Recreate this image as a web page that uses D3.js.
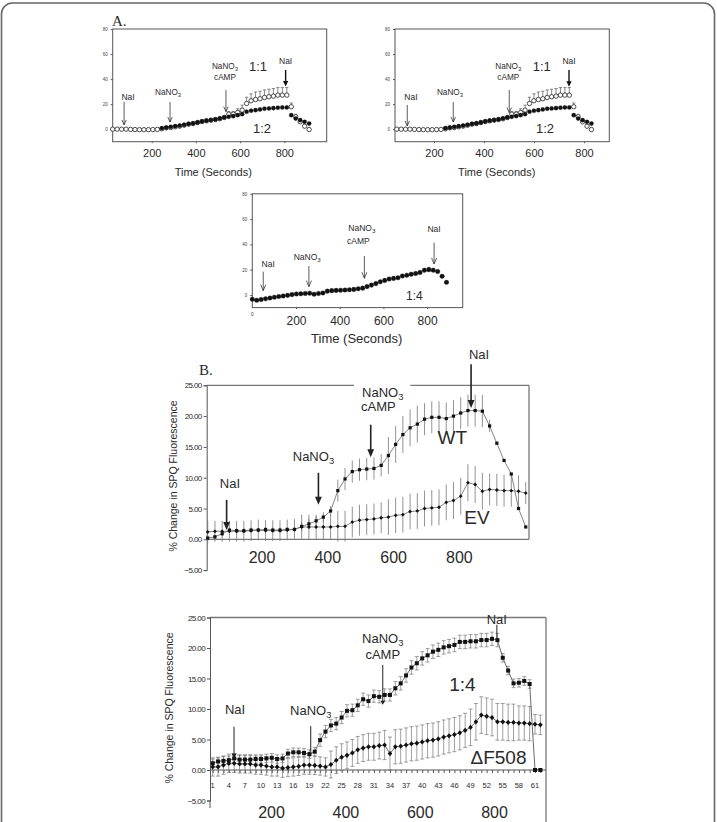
<!DOCTYPE html>
<html><head><meta charset="utf-8">
<script src="https://cdn.jsdelivr.net/npm/d3@7"></script>
<style>body{margin:0;background:#fff}svg{display:block}</style>
</head><body>
<svg id="c" width="717" height="822"></svg>
<script>
// ---------------- DATA ----------------
const aYTicks = [0, 20, 40, 60, 80];
const aXTicks = [200, 400, 600, 800];
const bYTicks = [-5, 0, 5, 10, 15, 20, 25];
const bXTicks = [200, 400, 600, 800];
const b2IndexLabels = [1,4,7,10,13,16,19,22,25,28,31,34,37,40,43,46,49,52,55,58,61];

// Panel A (1:1 open circles, 1:2 filled circles) - same in both top panels
const a11 = [0,0,0,0,-0.2,-0.3,-0.4,-0.4,-0.4,-0.3,-0.2,0.3,1.1,1.3,1.9,2.4,3.2,4.0,4.5,5.3,6.1,6.7,7.2,7.7,8.3,9.3,12,12,13.3,15.2,20.5,22.7,23.7,24.3,25.3,25.9,26.4,27.2,27.2,27.2,17.9,9.9,5.9,2.4,-0.3];
const a11Err = [0,0,0,0,0,0,0,0,0,0,0,0,0,0,0,0,0,0,0,0,0,0,0,0,0,0,2,2,3,4,5,5.5,6,6,6,6,6,6,6,6,3,2,2,1,1];
const a12 = [null,null,null,null,null,null,null,null,null,null,null,0.8,1.3,1.9,2.4,2.9,3.5,4.2,4.7,5.4,6.2,6.8,7.3,7.8,8.6,9.5,9.9,10.4,11.2,12.0,13.9,14.7,15.2,15.7,16.3,16.5,16.8,17.1,17.3,17.3,11.2,8.5,7.2,5.9,4.5];
const a12Err = [0,0,0,0,0,0,0,0,0,0,0,0,0,0,0,0,0,0,0,0,0,0,0,0,0,0,1,1,1,1,1.2,1.2,1.2,1.2,1.2,1.2,1.2,1.2,1.2,1.2,1,1,1,1,1];
// Panel A bottom (1:4)
const a14 = [-3.4,-4.2,-3.6,-3.0,-2.4,-1.8,-1.2,-0.8,-0.3,0.3,0.8,1.0,1.2,1.4,0.6,1.2,1.6,3.0,3.4,3.6,3.7,3.9,4.1,4.4,4.9,5.4,6.6,7.8,9.0,10.4,11.5,12.6,13.1,13.6,15.0,15.6,16.4,17.0,17.8,19.5,20.0,19.5,18.5,14.8,10.0];
const a14Err = [0,0,0,0,0,0,0,0,0,0,0,0,0,0,0,0,0,0,0,0,0,0,0,0,0,0,0,0,0,0,0,0,0,0,0,0,0.8,1,1.2,1.5,1.8,1.5,1,0,0];

// Panel B top (WT, EV)
const bWT = [0.2,0.4,0.9,1.5,1.4,1.4,1.5,1.5,1.6,1.5,1.5,1.6,1.6,2.1,2.5,3.0,3.6,4.6,7.9,9.8,11.0,11.3,11.4,11.5,12.0,13.6,15.4,17.0,18.1,18.7,19.5,19.8,19.8,19.6,20.0,20.5,20.9,20.9,20.8,18.4,15.6,12.8,10.6,5.0,2.0];
const bWTErr = [0.4,0.4,0.4,0.4,0.4,0.4,0.4,0.4,0.4,0.4,0.4,0.4,0.4,0.8,0.8,0.8,0.8,0.8,1.8,1.8,1.8,1.8,1.8,1.8,1.8,3.0,3.0,3.0,3.0,3.0,2.6,2.6,2.6,2.6,2.6,2.6,2.6,2.6,2.6,1,0,0,0,0,0];
const bEV = [1.2,1.3,1.3,1.3,1.3,1.3,1.4,1.5,1.4,1.4,1.4,1.5,1.6,2.0,2.0,2.0,2.0,2.0,2.1,2.1,2.8,3.1,3.2,3.3,3.5,3.6,3.9,4.0,4.5,4.6,5.0,5.1,5.2,6.0,6.3,7.0,9.2,8.9,7.8,8.1,8.0,7.9,7.9,7.8,7.5];
const bEVErr = [1.8,1.7,1.7,1.7,1.7,1.7,1.7,1.7,1.7,1.7,1.7,1.7,1.7,2.0,2.0,2.0,2.0,2.0,2.5,2.5,2.5,2.5,2.5,2.5,2.5,2.9,2.9,2.9,2.9,2.9,2.9,2.9,2.9,2.9,3.0,3.0,3.0,3.0,3.0,2.6,2.6,2.6,2.6,2.6,1.8];

// Panel B bottom (1:4 squares, deltaF508 diamonds)
const b14 = [1.1,1.4,1.5,1.6,1.9,1.7,1.7,1.7,1.8,1.8,1.9,2.0,1.8,1.9,2.7,2.9,2.9,2.8,2.6,3.0,4.9,6.3,7.3,7.6,8.6,9.7,9.8,10.6,11.6,11.3,12.1,12.0,12.3,12.3,13.4,14.2,15.5,16.8,17.5,18.3,18.8,19.4,19.7,20.1,20.3,20.5,21.0,21.0,21.1,21.1,21.3,21.3,21.5,21.3,18.4,16.3,14.2,14.3,14.6,14.1,0,0];
const b14Err = [0.7,0.7,0.7,0.7,0.7,0.7,0.7,0.7,0.7,0.7,0.7,0.7,0.7,0.7,0.7,0.7,0.7,0.7,0.7,0.7,1.0,1.0,1.0,1.0,1.0,1.0,1.0,1.0,1.0,1.0,1.0,1.0,1.0,1.0,1.1,1.1,1.1,1.1,1.1,1.1,1.1,1.1,1.1,1.1,1.1,1.1,1.1,1.1,1.1,1.1,1.1,1.1,1.1,1.1,0.7,0.7,0.7,0.7,0.7,0.7,0.2,0.2];
const bDF = [0.5,0.5,0.8,1.1,1.1,1.0,1.0,1.0,0.8,0.8,0.65,0.5,0.5,0.3,0.4,0.5,0.6,0.8,0.8,0.75,0.65,0.5,0.9,1.6,2.1,2.4,2.8,3.3,3.6,3.8,3.8,4.0,4.1,2.7,3.8,3.9,4.1,4.3,4.4,4.6,4.8,4.9,5.1,5.4,5.6,5.8,6.1,6.5,7.0,7.9,9.0,8.8,8.6,7.9,7.9,7.8,7.8,7.7,7.7,7.6,7.5,7.4];
const bDFErr = [1.5,1.5,1.5,1.5,1.5,1.5,1.5,1.5,1.5,1.5,1.5,1.5,1.5,1.5,1.5,1.5,1.5,1.5,1.5,1.5,1.5,1.5,2.2,2.2,2.2,2.2,2.2,2.2,2.2,2.2,2.2,2.2,2.4,2.7,2.8,2.8,2.8,2.8,2.8,2.8,2.8,2.8,2.8,2.8,2.8,2.8,2.8,2.8,3.0,3.0,3.0,3.0,3.0,3.0,3.0,3.0,3.0,2.8,2.8,2.8,1.6,1.6];

// ---------------- DRAW ----------------
const svg = d3.select('#c');
const SANS = '"Liberation Sans", Arial, sans-serif';
const SERIF = '"Liberation Serif", "Times New Roman", serif';
const TXT = '#2a2a2a';
const AX = '#555';

// outer rounded frame
svg.append('rect').attr('x', 1.5).attr('y', 3).attr('width', 713).attr('height', 860)
  .attr('rx', 11).attr('fill', 'none').attr('stroke', '#666').attr('stroke-width', 1.6);

function text(g, x, y, s, size, opts = {}) {
  return g.append('text').attr('x', x).attr('y', y).text(s)
    .attr('font-family', opts.family || SANS).attr('font-size', size)
    .attr('fill', opts.fill || TXT).attr('text-anchor', opts.anchor || 'middle')
    .attr('font-weight', opts.weight || 'normal');
}
function nano3(g, x, y, size) {
  const t = g.append('text').attr('x', x).attr('y', y).attr('font-family', SANS)
    .attr('font-size', size).attr('fill', TXT).attr('text-anchor', 'middle');
  t.append('tspan').text('NaNO');
  t.append('tspan').text('3').attr('font-size', size * 0.72).attr('dy', size * 0.25);
  return t;
}
function arrow(g, x, y1, y2, st) {
  const c = st.color || '#333';
  if (st.head === 'filled') {
    g.append('line').attr('x1', x).attr('x2', x).attr('y1', y1).attr('y2', y2 - st.h + 1)
      .attr('stroke', c).attr('stroke-width', st.w);
    g.append('path').attr('d', `M${x - st.hw},${y2 - st.h}L${x + st.hw},${y2 - st.h}L${x},${y2}Z`).attr('fill', c);
  } else if (st.head === 'open') {
    g.append('line').attr('x1', x).attr('x2', x).attr('y1', y1).attr('y2', y2)
      .attr('stroke', c).attr('stroke-width', st.w);
    g.append('path').attr('d', `M${x - st.hw},${y2 - st.h}L${x},${y2}L${x + st.hw},${y2 - st.h}`)
      .attr('fill', 'none').attr('stroke', c).attr('stroke-width', st.w);
  } else {
    g.append('line').attr('x1', x).attr('x2', x).attr('y1', y1).attr('y2', y2)
      .attr('stroke', c).attr('stroke-width', st.w);
  }
}

// ---------- Panel A helper ----------
function panelA(cfg) {
  const g = svg.append('g');
  const y = d3.scaleLinear().domain([-10, 80]).range([cfg.bottom, cfg.top]);
  const xAxis = d3.scaleLinear().domain([0, 1000]).range(cfg.axisRange);
  g.append('rect').attr('x', cfg.left).attr('y', cfg.top).attr('width', cfg.right - cfg.left)
    .attr('height', cfg.bottom - cfg.top).attr('fill', 'none').attr('stroke', AX).attr('stroke-width', 1);
  const ya = g.append('g').attr('transform', `translate(${cfg.left},0)`)
    .call(d3.axisLeft(y).tickValues(aYTicks).tickSize(2).tickPadding(3));
  ya.select('.domain').remove();
  ya.selectAll('line').attr('stroke', AX);
  ya.selectAll('text').attr('font-family', SANS).attr('font-size', 4.5).attr('fill', '#444');
  const xa = g.append('g').attr('transform', `translate(0,${cfg.bottom})`)
    .call(d3.axisBottom(xAxis).tickValues(cfg.xTicks).tickSize(1.5).tickPadding(cfg.xPad)
      .tickFormat(d3.format('d')));
  xa.select('.domain').remove();
  xa.selectAll('line').attr('stroke', AX);
  xa.selectAll('text').attr('font-family', SANS).attr('font-size', cfg.xFont).attr('fill', TXT);
  text(g, cfg.titleX, cfg.titleY, 'Time (Seconds)', cfg.titleFont);
  cfg.series.forEach(s => {
    const pts = s.vals.map((v, i) => ({t: cfg.t0 + i * cfg.dt, v, e: s.err[i]})).filter(d => d.v !== null);
    g.append('g').selectAll('path').data(pts.filter(d => d.e > 0)).join('path')
      .attr('d', d => {
        const x = xAxis(d.t), yv = y(d.v), ye = y(d.v + d.e);
        return `M${x},${yv}V${ye}M${x - 1.6},${ye}H${x + 1.6}`;
      }).attr('stroke', '#555').attr('stroke-width', 0.7).attr('fill', 'none');
    g.append('g').selectAll('circle').data(pts).join('circle')
      .attr('cx', d => xAxis(d.t)).attr('cy', d => y(d.v)).attr('r', s.r)
      .attr('fill', s.open ? '#fff' : '#111').attr('stroke', '#222').attr('stroke-width', s.open ? 0.8 : 0.3);
  });
  cfg.ann.forEach(a => {
    const x = xAxis(a.t);
    arrow(g, x, y(a.v1), y(a.v2), a.st);
    a.labels.forEach(l => {
      if (l.s === 'NaNO3') nano3(g, x + l.dx, y(a.v1) + l.dy, l.size);
      else text(g, x + l.dx, y(a.v1) + l.dy, l.s, l.size);
    });
  });
  cfg.tags.forEach(tg => text(g, xAxis(tg.t), y(tg.v), tg.s, tg.size));
  return g;
}

const thinOpen = {head: 'open', w: 0.8, hw: 2.2, h: 5};
const boldFilled = {head: 'filled', w: 1.4, hw: 2.6, h: 5.5, color: '#111'};

// A1
panelA({
  left: 112.7, right: 326.7, top: 29, bottom: 141.7, axisRange: [107.5, 328.5],
  xTicks: aXTicks, xPad: 6, xFont: 11, titleX: 213.3, titleY: 175.5, titleFont: 11,
  t0: 23.5, dt: 20.2,
  series: [{vals: a11, err: a11Err, open: true, r: 2.2}, {vals: a12, err: a12Err, open: false, r: 2.1}],
  ann: [
    {t: 75, v1: 22, v2: 3.4, st: thinOpen, labels: [{s: 'NaI', dx: 4, dy: -1.4, size: 8.5}]},
    {t: 283, v1: 21.7, v2: 5.7, st: thinOpen, labels: [{s: 'NaNO3', dx: -2, dy: -7.3, size: 8.2}]},
    {t: 536, v1: 31.3, v2: 14, st: thinOpen, labels: [{s: 'NaNO3', dx: -1, dy: -21, size: 8.2}, {s: 'cAMP', dx: -1, dy: -10.3, size: 8.2}]},
    {t: 806, v1: 47.3, v2: 34, st: boldFilled, labels: [{s: 'NaI', dx: 0, dy: -6.3, size: 8.5}]}
  ],
  tags: [{t: 681, v: 46.5, s: '1:1', size: 13}, {t: 699, v: -2.7, s: '1:2', size: 13}]
});

// A2
panelA({
  left: 395, right: 609.3, top: 29, bottom: 141.7, axisRange: [384, 634],
  xTicks: aXTicks, xPad: 6, xFont: 11, titleX: 496.7, titleY: 175.5, titleFont: 11,
  t0: 51, dt: 17.7,
  series: [{vals: a11, err: a11Err, open: true, r: 2.2}, {vals: a12, err: a12Err, open: false, r: 2.1}],
  ann: [
    {t: 93, v1: 19.3, v2: 2.6, st: thinOpen, labels: [{s: 'NaI', dx: 3.7, dy: -4.6, size: 8.5}]},
    {t: 277, v1: 21.7, v2: 5.7, st: thinOpen, labels: [{s: 'NaNO3', dx: -3.3, dy: -7.3, size: 8.2}]},
    {t: 501, v1: 31.3, v2: 13.2, st: thinOpen, labels: [{s: 'NaNO3', dx: -1, dy: -21, size: 8.2}, {s: 'cAMP', dx: -1, dy: -10.3, size: 8.2}]},
    {t: 740, v1: 47.3, v2: 33.8, st: boldFilled, labels: [{s: 'NaI', dx: 0, dy: -6.3, size: 8.5}]}
  ],
  tags: [{t: 631, v: 46.5, s: '1:1', size: 13}, {t: 644, v: -2.7, s: '1:2', size: 13}]
});

// A3
(function () {
  const st = {head: 'open', w: 0.8, hw: 2.5, h: 6};
  const g = panelA({
    left: 252.3, right: 462.7, top: 193.8, bottom: 307.6, axisRange: [252.3, 470.8],
    xTicks: aXTicks, xPad: 7, xFont: 12, titleX: 356.7, titleY: 343, titleFont: 13,
    t0: 0, dt: 20.2,
    series: [{vals: a14, err: a14Err, open: false, r: 2.3}],
    ann: [
      {t: 50, v1: 18.4, v2: 3.4, st, labels: [{s: 'NaI', dx: 5, dy: -4.7, size: 8.5}]},
      {t: 259, v1: 22.9, v2: 6.6, st, labels: [{s: 'NaNO3', dx: -1.7, dy: -5.7, size: 8.5}]},
      {t: 513, v1: 30.8, v2: 13.2, st, labels: [{s: 'NaNO3', dx: -2.6, dy: -24.7, size: 8.5}, {s: 'cAMP', dx: -6, dy: -12.3, size: 8.5}]},
      {t: 832, v1: 41.3, v2: 24.5, st, labels: [{s: 'NaI', dx: 0, dy: -10.7, size: 8.5}]}
    ],
    tags: [{t: 742, v: -4, s: '1:4', size: 12}]
  });
  text(g, 252.3, 316, '0', 4.5);
})();

text(svg, 112, 26, 'A.', 15, {family: SERIF, anchor: 'start'});

// ---------- Panel B helper ----------
function panelB(cfg) {
  const g = svg.append('g');
  const y = d3.scaleLinear().domain([-5, 25]).range([cfg.yMin5, cfg.top]);
  g.append('line').attr('x1', cfg.left).attr('x2', cfg.right).attr('y1', cfg.top).attr('y2', cfg.top).attr('stroke', '#777').attr('stroke-width', 1.3);
  g.append('line').attr('x1', cfg.right).attr('x2', cfg.right).attr('y1', cfg.top).attr('y2', cfg.rightBottom).attr('stroke', '#777').attr('stroke-width', 1.3);
  const ya = g.append('g').attr('transform', `translate(${cfg.left},0)`)
    .call(d3.axisLeft(y).tickValues(bYTicks).tickSize(3).tickPadding(2).tickFormat(d3.format('.2f')));
  ya.select('.domain').attr('stroke', '#555').attr('stroke-width', 1);
  ya.selectAll('line').attr('stroke', '#555');
  ya.selectAll('text').attr('font-family', SANS).attr('font-size', 8).attr('letter-spacing', -0.6).attr('fill', TXT);
  g.append('line').attr('x1', cfg.left).attr('x2', cfg.left).attr('y1', cfg.yMin5).attr('y2', cfg.leftBottom).attr('stroke', '#555');
  g.append('line').attr('x1', cfg.left).attr('x2', cfg.right).attr('y1', y(0)).attr('y2', y(0)).attr('stroke', '#555').attr('stroke-width', 1);
  text(g, 0, 0, '% Change in SPQ Fluorescence', 10.5)
    .attr('transform', `translate(${cfg.titleX},${cfg.titleY}) rotate(-90)`);
  const xt = d3.scaleLinear().domain([0, 1000]).range(cfg.timeRange);
  const xa = g.append('g').attr('transform', `translate(0,${cfg.timeY})`)
    .call(d3.axisBottom(xt).tickValues(bXTicks).tickSize(0).tickPadding(0).tickFormat(d3.format('d')));
  xa.select('.domain').remove();
  xa.selectAll('text').attr('font-family', SANS).attr('font-size', 16).attr('fill', TXT).attr('dy', 0);
  return {g, y};
}

// ---------- B1 ----------
(function () {
  const {g, y} = panelB({left: 206.7, right: 529, top: 385.3, yMin5: 570.1, rightBottom: 539.3, leftBottom: 570.1,
    titleX: 177, titleY: 476, timeRange: [195.7, 524.7], timeY: 562.5});
  const x = d3.scaleLinear().domain([0, 1000]).range([195.7, 524.7]);
  const t0 = 36.5, dt = 21.97;
  const ev = bEV.map((v, i) => ({t: t0 + i * dt, v, e: bEVErr[i]}));
  const wt = bWT.map((v, i) => ({t: t0 + i * dt, v, e: bWTErr[i]}));
  const line = d3.line().x(d => x(d.t)).y(d => y(d.v));
  [ev, wt].forEach(s => {
    g.append('g').selectAll('line').data(s.filter(d => d.e > 0)).join('line')
      .attr('x1', d => x(d.t)).attr('x2', d => x(d.t)).attr('y1', d => y(d.v - d.e)).attr('y2', d => y(d.v + d.e))
      .attr('stroke', '#777').attr('stroke-width', 0.8);
    g.append('path').attr('d', line(s)).attr('fill', 'none').attr('stroke', '#666').attr('stroke-width', 0.8);
  });
  g.append('g').selectAll('path').data(ev).join('path')
    .attr('d', d => `M${x(d.t)},${y(d.v) - 1.9}l1.9,1.9l-1.9,1.9l-1.9,-1.9Z`).attr('fill', '#111');
  g.append('g').selectAll('rect').data(wt).join('rect')
    .attr('x', d => x(d.t) - 1.6).attr('y', d => y(d.v) - 1.6).attr('width', 3.2).attr('height', 3.2).attr('fill', '#111');

  const bArrow = {head: 'filled', w: 1.6, hw: 3.4, h: 8, color: '#222'};
  arrow(g, x(94), y(6.4), y(1.5), bArrow);
  text(g, x(94) + 3.3, y(6.4) - 12, 'NaI', 13);
  arrow(g, x(373), y(10.8), y(5.6), bArrow);
  nano3(g, x(373) - 5, y(10.8) - 12, 13);
  const lab = g.append('g');
  nano3(lab, x(532) + 12, y(18.6) - 28, 13);
  text(lab, x(532) + 7.6, y(18.6) - 13.6, 'cAMP', 13);
  const bb = lab.node().getBBox();
  g.append('rect').attr('x', bb.x - 7).attr('y', y(25) - 2).attr('width', bb.width + 14).attr('height', 4).attr('fill', '#fff');
  lab.raise();
  arrow(g, x(532), y(18.6), y(13.3), bArrow);
  arrow(g, x(837), y(28.4), y(21.3), bArrow);
  text(g, x(837) + 8, y(28.4) - 5, 'NaI', 13);
  text(g, x(780), y(15.5), 'WT', 19);
  text(g, x(855), y(2.5), 'EV', 19);
})();

text(svg, 199, 375, 'B.', 15, {family: SERIF, anchor: 'start'});

// ---------- B2 ----------
(function () {
  const {g, y} = panelB({left: 210, right: 546, top: 617.5, yMin5: 800.5, rightBottom: 822, leftBottom: 808,
    titleX: 173, titleY: 708, timeRange: [196.7, 568.4], timeY: 817.5});
  const xi = d3.scaleLinear().domain([1, 61]).range([212.7, 535]);
  const idx = d3.range(1, b14.length + 1);
  const xa = g.append('g').attr('transform', `translate(0,${y(0)})`)
    .call(d3.axisBottom(xi).tickValues(idx).tickSize(3).tickFormat(() => ''));
  xa.select('.domain').remove();
  xa.selectAll('line').attr('stroke', '#555');
  g.append('g').selectAll('text').data(b2IndexLabels).join('text')
    .attr('x', d => xi(d)).attr('y', y(0) + 18).text(d => d)
    .attr('font-family', SANS).attr('font-size', 7.5).attr('fill', TXT).attr('text-anchor', 'middle');

  const sq = b14.map((v, i) => ({i: i + 1, v, e: b14Err[i]}));
  const df = bDF.map((v, i) => ({i: i + 1, v, e: bDFErr[i]}));
  const line = d3.line().x(d => xi(d.i)).y(d => y(d.v));
  [df, sq].forEach(s => {
    g.append('g').selectAll('path').data(s).join('path')
      .attr('d', d => {
        const X = xi(d.i), a = y(d.v - d.e), b = y(d.v + d.e);
        return `M${X},${a}V${b}M${X - 2},${a}H${X + 2}M${X - 2},${b}H${X + 2}`;
      }).attr('stroke', '#777').attr('stroke-width', 0.7).attr('fill', 'none');
    g.append('path').attr('d', line(s)).attr('fill', 'none').attr('stroke', '#444').attr('stroke-width', 0.8);
  });
  g.append('g').selectAll('path').data(df).join('path')
    .attr('d', d => `M${xi(d.i)},${y(d.v) - 2.6}l2.3,2.6l-2.3,2.6l-2.3,-2.6Z`).attr('fill', '#111');
  g.append('g').selectAll('rect').data(sq).join('rect')
    .attr('x', d => xi(d.i) - 2).attr('y', d => y(d.v) - 2).attr('width', 4).attr('height', 4).attr('fill', '#111');

  arrow(g, xi(4.97), y(7.1), y(1.9), {head: 'filled', w: 1, hw: 2.6, h: 5, color: '#222'});
  text(g, xi(4.97) + 1, y(7.1) - 13, 'NaI', 13);
  arrow(g, xi(19.25), y(7.2), y(2.5), {head: 'none', w: 1, color: '#222'});
  nano3(g, xi(19.25), y(7.2) - 11, 13);
  arrow(g, xi(32.66), y(17.2), y(10.7), {head: 'filled', w: 1, hw: 2.4, h: 4, color: '#222'});
  nano3(g, xi(32.66), y(17.2) - 22, 13);
  text(g, xi(32.66), y(17.2) - 6.5, 'cAMP', 13);
  arrow(g, xi(53.9), y(23.8), y(21.3), {head: 'none', w: 1, color: '#222'});
  text(g, xi(53.9), 623.5, 'NaI', 13);
  text(g, xi(47.5), y(13), '1:4', 19);
  text(g, xi(54.2), y(1.0), '\u0394F508', 19);
})();
</script>
</body></html>
